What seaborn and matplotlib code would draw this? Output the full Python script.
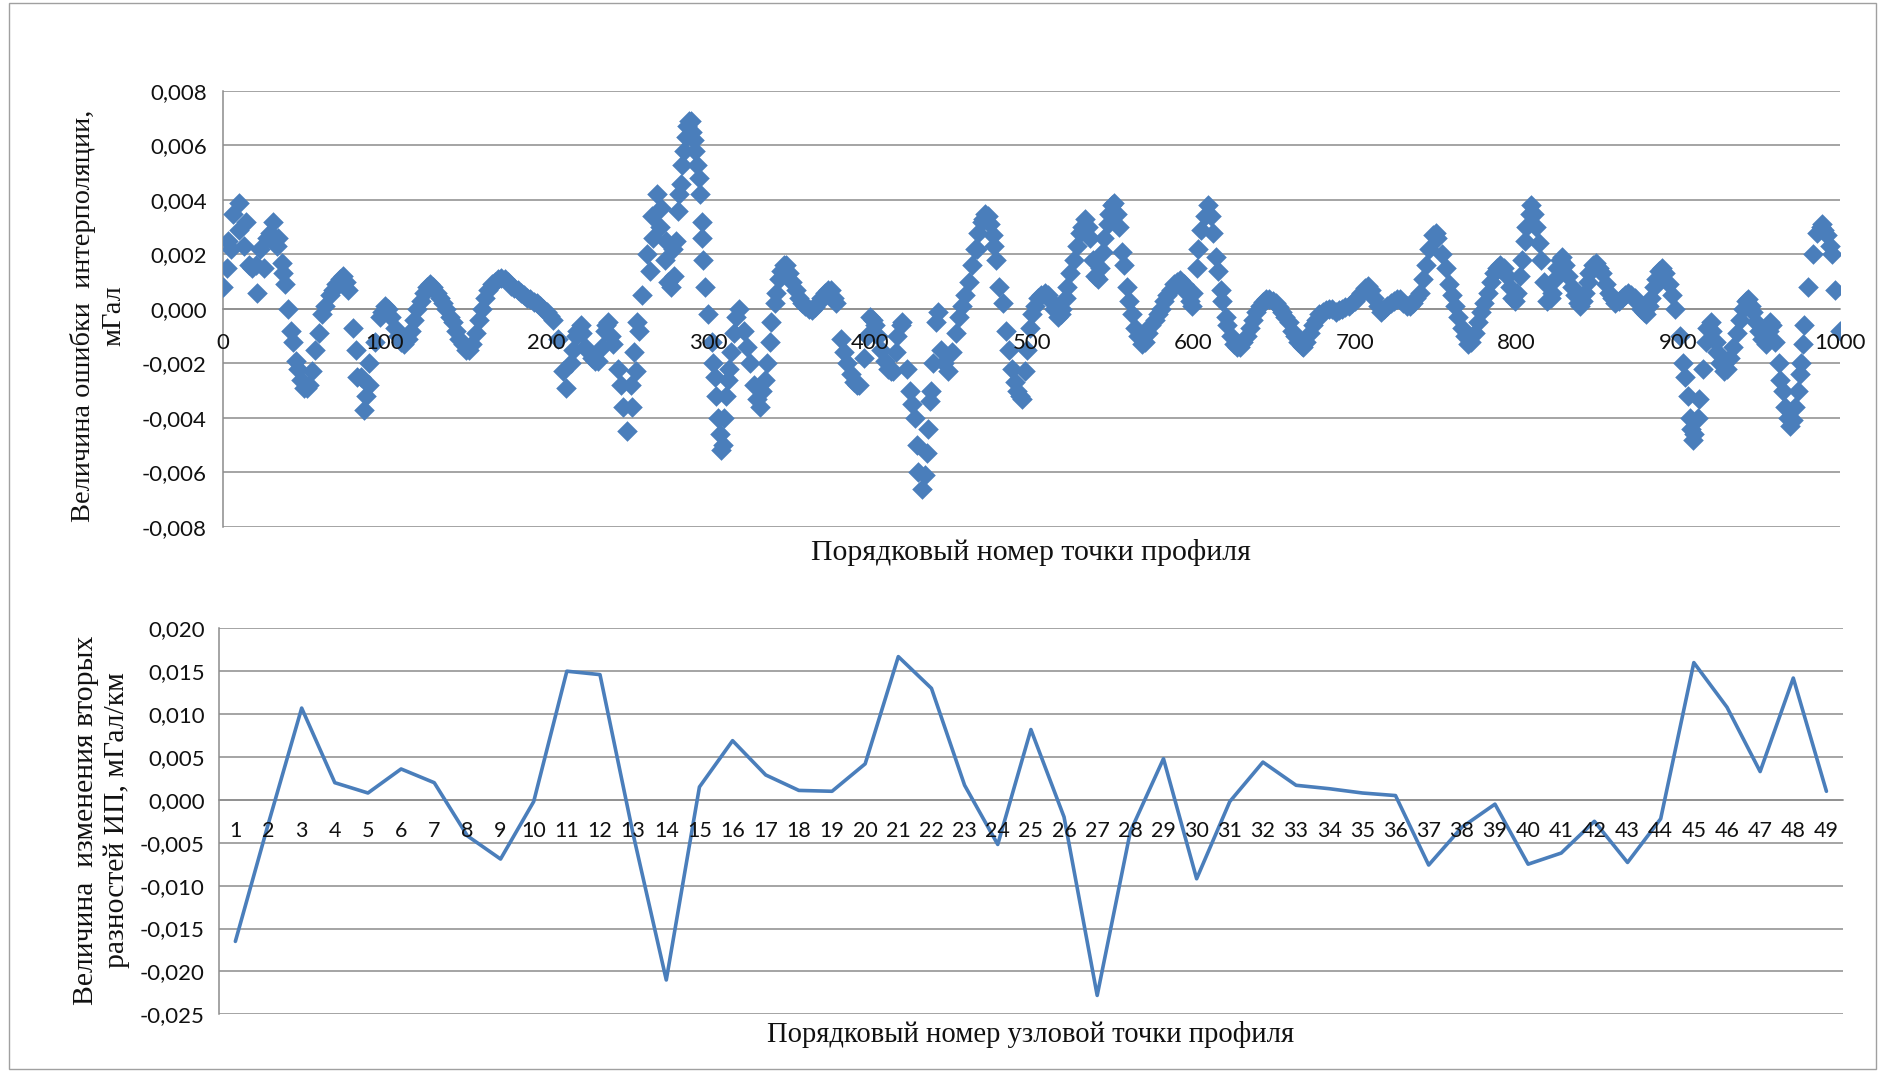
import numpy as np
import pandas as pd
import matplotlib
matplotlib.use("Agg")
import matplotlib.pyplot as plt
import seaborn as sns
from matplotlib.ticker import FuncFormatter, FixedLocator, NullFormatter
from matplotlib.patches import Rectangle

# ---------------- data (top chart: interpolation error, units of 1e-3 mGal) -------------
UNIT = 1e-3
profile_x = [
    0, 3, 6, 10, 14, 18, 21, 25, 29, 31,
    34, 37, 40, 43, 46, 50, 53, 57, 61, 66,
    70, 74, 77, 80, 83, 87, 90, 94, 97, 100,
    104, 108, 112, 116, 120, 124, 128, 132, 136, 140,
    144, 148, 152, 156, 160, 164, 168, 172, 176, 180,
    184, 188, 192, 196, 200, 204, 207, 210, 212, 215,
    218, 221, 224, 228, 232, 236, 238, 241, 244, 247,
    250, 253, 255, 257, 259, 262, 265, 268, 271, 274,
    277, 280, 282, 284, 286, 288, 290, 292, 294, 296,
    297, 298, 300, 302, 304, 306, 308, 310, 312, 314,
    317, 319, 322, 326, 330, 333, 336, 339, 342, 345,
    348, 352, 356, 360, 364, 368, 372, 376, 379, 382,
    386, 390, 393, 396, 400, 403, 407, 411, 414, 417,
    420, 423, 426, 429, 432, 435, 438, 441, 444, 448,
    451, 455, 459, 463, 467, 471, 474, 477, 480, 484,
    488, 491, 494, 497, 500, 504, 508, 512, 516, 519,
    522, 526, 530, 533, 536, 539, 542, 545, 548, 551,
    554, 557, 560, 564, 568, 572, 576, 580, 584, 588,
    592, 596, 599, 602, 605, 609, 612, 615, 618, 621,
    625, 629, 633, 637, 641, 645, 649, 653, 657, 661,
    665, 668, 672, 676, 680, 684, 688, 692, 696, 700,
    704, 708, 712, 716, 720, 724, 728, 732, 736, 740,
    744, 748, 751, 754, 758, 762, 766, 770, 774, 778,
    782, 786, 790, 794, 797, 800, 803, 806, 809, 812,
    815, 819, 822, 825, 828, 832, 836, 839, 842, 845,
    849, 853, 857, 861, 865, 869, 873, 877, 880, 883,
    886, 890, 894, 898, 901, 904, 907, 909, 912, 915,
    918, 921, 924, 928, 932, 936, 940, 943, 946, 950,
    954, 957, 960, 963, 966, 969, 972, 975, 978, 980,
    983, 986, 989, 992, 995, 997, 1000,
]
profile_err = [
    0.8, 2.5, 3.5, 3.9, 3.2, 1.5, 0.6, 1.5, 2.8, 3.2,
    2.6, 1.3, 0.0, -1.2, -2.2, -2.9, -2.8, -1.5, -0.2, 0.5,
    0.9, 1.2, 0.7, -0.7, -2.5, -3.7, -2.8, -1.2, -0.3, 0.1,
    -0.3, -1.0, -1.3, -0.8, 0.0, 0.6, 0.9, 0.6, 0.2, -0.3,
    -0.8, -1.3, -1.5, -0.9, 0.0, 0.7, 1.0, 1.15, 1.0, 0.75,
    0.6, 0.4, 0.25, 0.1, -0.1, -0.4, -1.1, -2.3, -2.9, -2.0,
    -1.0, -0.6, -1.4, -1.8, -1.9, -0.8, -0.5, -1.3, -2.2, -3.6,
    -4.5, -3.6, -2.3, -0.8, 0.5, 2.0, 3.4, 4.2, 3.7, 2.5,
    0.8, 2.5, 4.2, 5.3, 6.3, 6.9, 6.5, 5.8, 4.8, 3.2,
    1.8, 0.8, -0.2, -1.2, -2.5, -4.0, -5.2, -4.0, -2.6, -1.6,
    -0.3, 0.0, -0.8, -2.0, -3.3, -3.0, -2.0, -0.5, 0.6, 1.4,
    1.6, 1.0, 0.4, 0.1, -0.05, 0.2, 0.6, 0.7, 0.2, -1.1,
    -2.0, -2.7, -2.8, -1.8, -0.3, -0.6, -1.5, -2.2, -2.3, -1.0,
    -0.5, -2.2, -3.5, -5.0, -6.6, -5.3, -3.0, -0.5, -1.5, -2.3,
    -1.6, -0.3, 0.5, 1.6, 2.8, 3.5, 3.1, 2.3, 0.8, -0.8,
    -2.2, -3.0, -3.3, -1.5, -0.2, 0.4, 0.6, 0.3, -0.3, 0.0,
    0.8, 1.8, 2.8, 3.3, 2.6, 1.2, 1.5, 2.6, 3.5, 3.9,
    3.0, 1.6, 0.3, -0.7, -1.3, -0.9, -0.4, 0.0, 0.5, 0.9,
    1.05, 0.6, 0.1, 1.5, 2.9, 3.8, 2.8, 1.4, 0.3, -0.6,
    -1.3, -1.4, -1.0, -0.4, 0.1, 0.35, 0.3, 0.05, -0.3, -0.8,
    -1.2, -1.4, -0.9, -0.4, -0.1, 0.0, -0.1, 0.0, 0.1, 0.3,
    0.6, 0.85, 0.4, -0.1, 0.1, 0.3, 0.35, 0.1, 0.2, 0.6,
    1.6, 2.7, 2.6, 2.0, 0.9, 0.1, -0.7, -1.3, -0.9, -0.1,
    0.6, 1.3, 1.6, 1.2, 0.4, 0.6, 1.8, 3.0, 3.8, 3.0,
    1.8, 0.3, 0.6, 1.5, 1.9, 1.2, 0.5, 0.1, 0.6, 1.3,
    1.7, 1.3, 0.6, 0.2, 0.4, 0.6, 0.4, 0.0, -0.2, 0.4,
    1.1, 1.5, 0.9, 0.0, -1.0, -2.5, -4.0, -4.8, -4.0, -2.2,
    -0.7, -0.8, -1.6, -2.3, -1.8, -0.9, 0.0, 0.35, -0.1, -0.8,
    -1.3, -0.5, -1.2, -2.6, -3.6, -4.3, -3.6, -2.4, -0.6, 0.8,
    2.0, 2.8, 3.1, 2.7, 2.0, 0.7, -0.8,
]
# secondary branch of points visible where the error alternates
branch_x = [
    2, 5, 10, 13, 16, 20, 23, 27, 33, 36, 38,
    82, 85, 88, 90,
    240, 246, 252, 254, 256,
    264, 266, 270, 273, 275, 278, 279, 281, 283, 285, 287, 289, 291, 293, 295, 296,
    303, 305, 307, 309, 311, 313, 316,
    324, 328, 332, 335, 338,
    425, 428, 430, 434, 436, 437, 439, 442, 446,
    466, 470, 473, 478, 482,
    903, 906, 908, 910, 913,
    962, 965, 968, 971, 974, 976, 977,
    988, 990, 994,
]
branch_err = [
    1.5, 2.2, 2.9, 2.3, 1.6, 1.6, 2.2, 2.6, 2.3, 1.7, 0.9,
    -1.5, -2.5, -3.2, -2.0,
    -1.0, -2.8, -2.8, -1.6, -0.5,
    1.4, 2.6, 3.0, 1.8, 1.0, 2.2, 1.2, 3.6, 4.6, 5.8, 6.7, 6.9, 6.2, 5.3, 4.2, 2.6,
    -2.0, -3.2, -4.6, -5.0, -3.2, -2.2, -0.9,
    -1.4, -2.8, -3.6, -2.6, -1.2,
    -3.0, -4.0, -6.0, -6.1, -4.4, -3.4, -2.0, -0.1, -2.0,
    2.2, 3.3, 3.4, 1.8, 0.2,
    -2.0, -3.2, -4.4, -4.6, -3.3,
    -2.0, -3.0, -4.0, -4.1, -3.0, -2.0, -1.3,
    3.0, 2.9, 2.3,
]
# in-between points of the dense ribbon
band_x = [
    42, 45, 48, 52, 55, 59, 63, 68, 72, 76,
    98, 102, 106, 110, 114, 118, 122, 126, 130, 134,
    138, 142, 146, 150, 154, 158, 162, 166, 170, 174,
    178, 182, 186, 190, 194, 198, 202,
    216, 219, 222, 226, 230, 234, 237,
    341, 344, 347, 350, 354, 358, 362, 366, 370, 374,
    378, 384, 388, 392, 398, 402, 405, 409, 413, 416, 419,
    453, 457, 461, 465, 469, 476, 486, 490, 493, 496,
    499, 502, 506, 510, 514, 518, 521, 524, 528, 531,
    535, 538, 541, 544, 547, 550, 553, 556, 559,
    562, 566, 570, 574, 578, 582, 586, 590, 594, 598, 600,
    603, 607, 611, 614, 617, 620, 623, 627, 631, 635,
    639, 643, 647, 651, 655, 659, 663, 667, 670, 674,
    678, 682, 686, 690, 694, 698, 702, 706, 710, 714,
    718, 722, 726, 730, 734, 738, 742, 746, 750, 756,
    760, 764, 768, 772, 776, 780, 784, 788, 792, 796, 799,
    802, 805, 808, 811, 814, 817, 821, 824, 827, 830,
    834, 838, 841, 844, 847, 851, 855, 859, 863, 867,
    871, 875, 879, 882, 885, 888, 892, 896,
    917, 920, 923, 926, 930, 934, 938, 942, 945, 948,
    952, 956, 958,
]
band_err = [
    -0.8, -1.9, -2.6, -2.9, -2.3, -0.9, 0.1, 0.7, 1.1, 1.0,
    -0.1, 0.0, -0.7, -1.2, -1.1, -0.4, 0.3, 0.8, 0.8, 0.4,
    0.0, -0.5, -1.1, -1.5, -1.3, -0.4, 0.4, 0.9, 1.1, 1.1,
    0.85, 0.7, 0.5, 0.35, 0.2, 0.0, -0.25,
    -1.5, -0.8, -0.9, -1.6, -1.9, -1.4, -0.6,
    0.2, 1.1, 1.6, 1.3, 0.7, 0.2, 0.0, 0.05, 0.4, 0.7,
    0.4, -1.6, -2.4, -2.8, -1.0, -0.4, -1.0, -1.9, -2.3, -1.6, -0.6,
    -0.9, 0.1, 1.0, 2.2, 3.2, 2.7, -1.5, -2.7, -3.2, -2.3,
    -0.7, 0.1, 0.5, 0.5, 0.0, -0.2, 0.4, 1.3, 2.3, 3.0,
    3.0, 1.8, 1.1, 2.1, 3.1, 3.8, 3.5, 2.1, 0.8,
    -0.2, -1.0, -1.2, -0.6, -0.2, 0.3, 0.7, 1.0, 0.9, 0.3, 0.6,
    2.2, 3.4, 3.4, 1.9, 0.7, -0.3, -1.0, -1.4, -1.2, -0.7,
    -0.1, 0.25, 0.35, 0.2, -0.1, -0.5, -1.0, -1.35, -1.2, -0.6,
    -0.2, -0.05, 0.0, -0.05, 0.05, 0.2, 0.45, 0.75, 0.7, 0.1,
    0.0, 0.2, 0.35, 0.2, 0.1, 0.4, 1.1, 2.2, 2.8, 1.5,
    0.5, -0.3, -1.0, -1.2, -0.5, 0.2, 1.0, 1.5, 1.5, 0.8, 0.3,
    1.2, 2.5, 3.5, 3.5, 2.4, 1.0, 0.4, 1.1, 1.8, 1.6,
    0.8, 0.2, 0.3, 1.0, 1.6, 1.5, 0.9, 0.4, 0.3, 0.5,
    0.5, 0.2, -0.1, 0.1, 0.8, 1.4, 1.3, 0.5,
    -1.2, -0.5, -1.2, -2.0, -2.2, -1.4, -0.4, 0.3, 0.1, -0.5,
    -1.1, -0.8, -0.6,
]

# ---------------- data (bottom chart: change of second differences) -------------
node_number = list(range(1, 50))
second_diff_change = [
    -0.0165, -0.0027, 0.0107, 0.0020, 0.0008, 0.0036, 0.0020, -0.0042, -0.0069, -0.0002,
    0.0150, 0.0146, -0.0040, -0.0210, 0.0015, 0.0069, 0.0029, 0.0011, 0.0010, 0.0042,
    0.0167, 0.0130, 0.0017, -0.0052, 0.0082, -0.0020, -0.0228, -0.0037, 0.0048, -0.0092,
    -0.0002, 0.0044, 0.0017, 0.0013, 0.0008, 0.0005, -0.0076, -0.0032, -0.0005, -0.0075,
    -0.0062, -0.0025, -0.0073, -0.0022, 0.0160, 0.0108, 0.0033, 0.0142, 0.0010,
]

top_yticks = [-0.008, -0.006, -0.004, -0.002, 0.0, 0.002, 0.004, 0.006, 0.008]
top_xticks = [0, 100, 200, 300, 400, 500, 600, 700, 800, 900, 1000]
bot_yticks = [-0.025, -0.020, -0.015, -0.010, -0.005, 0.0, 0.005, 0.010, 0.015, 0.020]

# ---------------- style -------------
sns.set_theme(style="white")
plt.rcParams['font.family'] = ['Lato', 'DejaVu Sans']

BLUE = '#4a7ebb'
GRID = '#8c8c8c'
TXT = '#111111'
SERIF = ['Liberation Serif', 'DejaVu Serif']

W, H = 1885, 1072
fig = plt.figure(figsize=(W / 100, H / 100), dpi=100)
fig.patch.set_facecolor('white')

ax1 = fig.add_axes([223.3 / W, 1 - 526.7 / H, 1616.7 / W, 435.7 / H])
ax2 = fig.add_axes([218.8 / W, 1 - 1014.3 / H, 1624.2 / W, 386.0 / H])

def comma_fmt(v, pos):
    v = round(v, 6)
    if abs(v) < 1e-12:
        v = 0.0
    return f"{v:.3f}".replace('.', ',')

def style_axes(ax):
    ax.grid(False)
    ax.set_axisbelow(True)
    ax.yaxis.grid(True, color=GRID, lw=1.1)
    for s in ['top', 'right']:
        ax.spines[s].set_visible(False)
    for s in ['left', 'bottom']:
        ax.spines[s].set_color(GRID)
        ax.spines[s].set_linewidth(1.1)
    ax.spines['bottom'].set_position(('data', 0))
    ax.yaxis.set_major_formatter(FuncFormatter(comma_fmt))
    ax.xaxis.set_major_formatter(NullFormatter())
    ax.set_xlabel('')
    ax.set_ylabel('')

# ---------------- top chart -------------
all_x = profile_x + branch_x + band_x
all_e = profile_err + branch_err + band_err
df_top = pd.DataFrame({'x': all_x, 'y': [e * UNIT for e in all_e]})
sns.scatterplot(data=df_top, x='x', y='y', marker='D', s=110, color=BLUE,
                linewidth=0, ax=ax1, zorder=3, legend=False)

ax1.set_xlim(0, 1000)
ax1.set_ylim(-0.008, 0.008)
ax1.yaxis.set_major_locator(FixedLocator(top_yticks))
ax1.xaxis.set_major_locator(FixedLocator(top_xticks))
style_axes(ax1)
ax1.tick_params(axis='x', direction='out', length=6, width=1.1, color=GRID)
ax1.tick_params(axis='y', direction='out', length=7, width=1.1, color=GRID,
                pad=5, labelsize=16, labelcolor=TXT)
# category labels drawn above the markers (as in the original chart)
for t in top_xticks:
    ax1.annotate(str(t), xy=(t, 0), xytext=(0, -24.5), textcoords='offset points',
                 ha='center', va='center', fontsize=16, color=TXT, zorder=6,
                 annotation_clip=False)

# ---------------- bottom chart -------------
df_bot = pd.DataFrame({'node': node_number, 'value': second_diff_change})
sns.lineplot(data=df_bot, x='node', y='value', color=BLUE, lw=2.6, ax=ax2, zorder=3)
ax2.set_xlim(0.5, 49.5)
ax2.set_ylim(-0.025, 0.020)
ax2.yaxis.set_major_locator(FixedLocator(bot_yticks))
ax2.xaxis.set_major_locator(FixedLocator([n + 0.5 for n in range(0, 50)]))
style_axes(ax2)
ax2.tick_params(axis='x', direction='out', length=5, width=1.1, color=GRID)
ax2.tick_params(axis='y', direction='out', length=5, width=1.1, color=GRID,
                pad=5, labelsize=16, labelcolor=TXT)
for n in node_number:
    ax2.annotate(str(n), xy=(n, 0), xytext=(0, -22.5), textcoords='offset points',
                 ha='center', va='center', fontsize=15.5, color=TXT, zorder=6,
                 annotation_clip=False)

# ---------------- titles / labels -------------
fig.text(1031 / W, 1 - 553 / H, 'Порядковый номер точки профиля',
         ha='center', va='center', fontsize=21.5, family=SERIF, color=TXT)
fig.text(1031 / W, 1 - 1034 / H, 'Порядковый номер узловой точки профиля',
         ha='center', va='center', fontsize=20.6, family=SERIF, color=TXT)
fig.text(98 / W, 1 - 316 / H, 'Величина ошибки  интерполяции,\nмГал',
         ha='center', va='center', rotation=90, fontsize=20.4, family=SERIF,
         color=TXT, multialignment='center', linespacing=1.25)
fig.text(101.5 / W, 1 - 820 / H, 'Величина  изменения вторых\nразностей ИП, мГал/км',
         ha='center', va='center', rotation=90, fontsize=21.3, family=SERIF,
         color=TXT, multialignment='center', linespacing=1.25)

fig.add_artist(Rectangle((0.005, 0.003), 0.99, 0.994, transform=fig.transFigure,
                         fill=False, edgecolor='#a0a0a0', linewidth=1.0))

fig.savefig('out.png', dpi=100, facecolor='white')
